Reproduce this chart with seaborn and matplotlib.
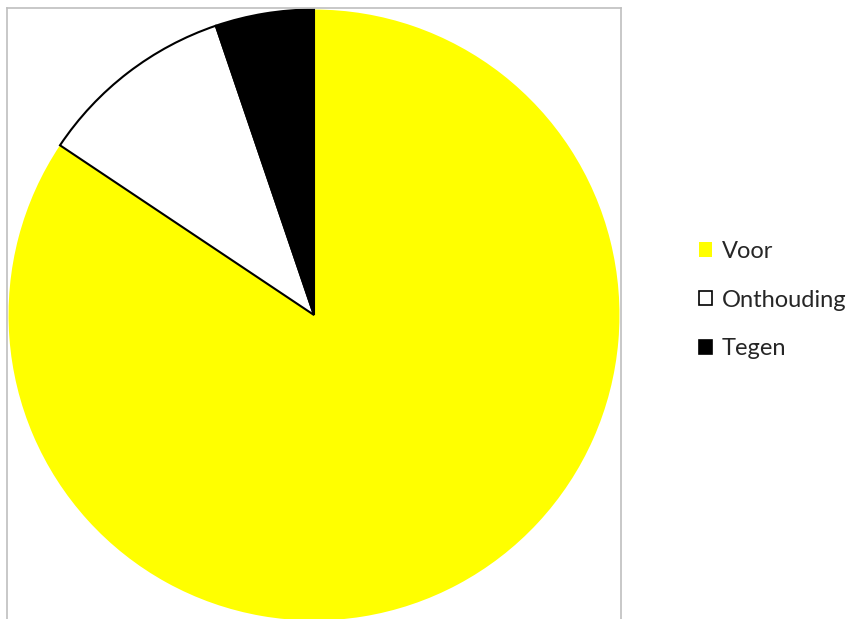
import matplotlib
matplotlib.use("Agg")
import matplotlib.pyplot as plt
import matplotlib.patches as mpatches
import seaborn as sns

categories = ["Voor", "Onthouding", "Tegen"]
values = [81, 10, 5]
colors = ["#FFFF00", "#FFFFFF", "#000000"]

sns.set_theme(style="white")
plt.rcParams['font.family'] = ['Lato', 'DejaVu Sans']

W, H = 852, 619
fig = plt.figure(figsize=(W / 100, H / 100), dpi=100)
ax = fig.add_axes([7 / W, (H - 622) / H, 614 / W, 614 / H])

wedges, _ = ax.pie(values, colors=colors, startangle=90, counterclock=False,
                   radius=1.0)
for w, c in zip(wedges, categories):
    if c == "Voor":
        w.set_edgecolor("none")
        w.set_linewidth(0)
    else:
        w.set_edgecolor("black")
        w.set_linewidth(1.5)

ax.set_aspect("auto")
ax.set_xlim(-1.005, 1.005)
ax.set_ylim(-1.005, 1.005)
ax.set_frame_on(True)
for s in ax.spines.values():
    s.set_visible(True)
    s.set_color("#BFBFBF")
    s.set_linewidth(1.2)
ax.set_xticks([])
ax.set_yticks([])

handles = []
for c, col in zip(categories, colors):
    ec = "none" if c == "Voor" else "black"
    handles.append(mpatches.Patch(facecolor=col, edgecolor=ec, linewidth=1.2, label=c))

fig.legend(handles=handles, loc="center left",
           bbox_to_anchor=(699 / W, 1 - 300 / H),
           frameon=False, fontsize=17, handlelength=0.55, handleheight=0.55,
           handletextpad=0.4, labelspacing=1.17, borderpad=0, borderaxespad=0)

fig.savefig("out.png", dpi=100, facecolor="white")
